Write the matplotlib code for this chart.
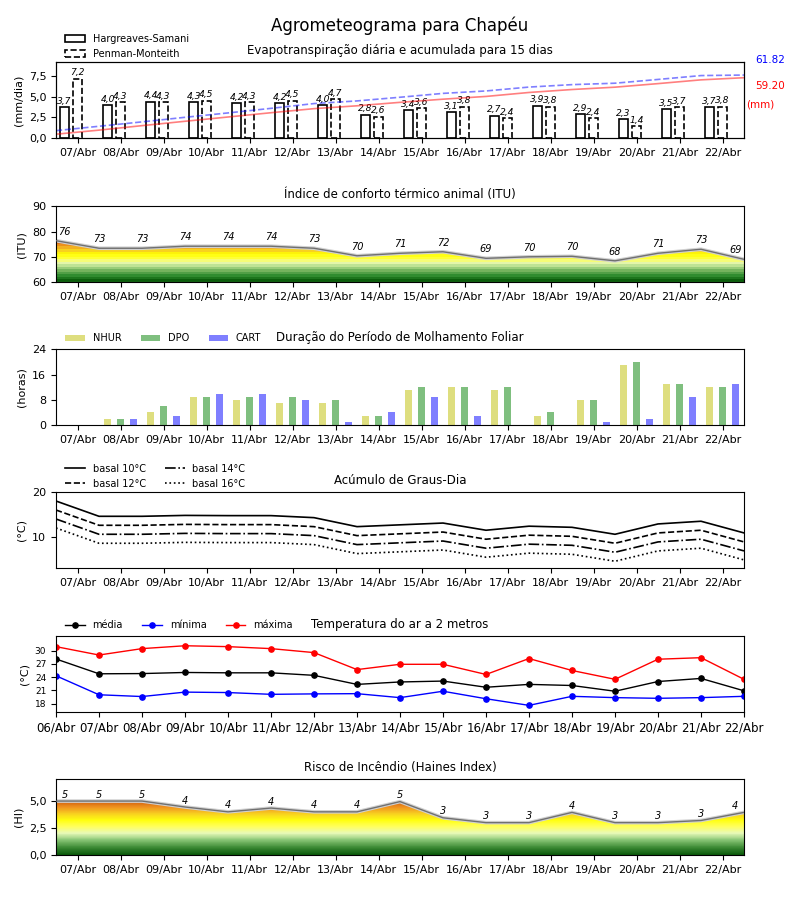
import numpy as np
import matplotlib
matplotlib.use('Agg')
import matplotlib.pyplot as plt
from matplotlib.colors import LinearSegmentedColormap
from matplotlib.patches import Patch

# datas (17 pontos, de 06/Abr a 22/Abr)
datas = ['06/Abr', '07/Abr', '08/Abr', '09/Abr', '10/Abr', '11/Abr', '12/Abr', '13/Abr', '14/Abr',
         '15/Abr', '16/Abr', '17/Abr', '18/Abr', '19/Abr', '20/Abr', '21/Abr', '22/Abr']
dias = datas[1:]  # rotulos no meio de cada dia

# evapotranspiracao diaria (mm/dia)
et_hs = [3.7, 4.0, 4.4, 4.3, 4.2, 4.2, 4.0, 2.8, 3.4, 3.1, 2.7, 3.9, 2.9, 2.3, 3.5, 3.7]
et_pm = [7.2, 4.3, 4.3, 4.5, 4.3, 4.5, 4.7, 2.6, 3.6, 3.8, 2.4, 3.8, 2.4, 1.4, 3.7, 3.8]
# acumulado (mm)
acum_hs = [3.7, 7.7, 12.1, 16.4, 20.6, 24.8, 28.8, 31.6, 35.0, 38.1, 40.8, 44.7, 47.6, 49.9, 53.4, 57.1, 59.20]
acum_pm = [7.2, 11.5, 15.8, 20.3, 24.6, 29.1, 33.8, 36.4, 40.0, 43.8, 46.2, 50.0, 52.4, 53.8, 57.5, 61.3, 61.82]

# indice de conforto termico (ITU)
itu = [76.4, 73.4, 73.4, 74.2, 74.2, 74.2, 73.4, 70.4, 71.4, 72.0, 69.4, 70.0, 70.2, 68.4, 71.4, 73.0, 69.0]

# molhamento foliar (horas)
nhur = [0, 2, 4, 9, 8, 7, 7, 3, 11, 12, 11, 3, 8, 19, 13, 12]
dpo = [0, 2, 6, 9, 9, 9, 8, 3, 12, 12, 12, 4, 8, 20, 13, 12]
cart = [0, 2, 3, 10, 10, 8, 1, 4, 9, 3, 0, 0, 1, 2, 9, 13]

# graus-dia
gd10 = [18.1, 14.7, 14.7, 14.9, 14.85, 14.85, 14.4, 12.4, 12.8, 13.2, 11.6, 12.5, 12.25, 10.7, 13.0, 13.6, 11.0]
gd12 = [16.1, 12.7, 12.7, 12.9, 12.85, 12.85, 12.4, 10.4, 10.8, 11.2, 9.6, 10.5, 10.25, 8.7, 11.0, 11.6, 9.0]
gd14 = [14.1, 10.7, 10.7, 10.9, 10.85, 10.85, 10.4, 8.4, 8.8, 9.2, 7.6, 8.5, 8.25, 6.7, 9.0, 9.6, 7.0]
gd16 = [12.1, 8.7, 8.7, 8.9, 8.85, 8.85, 8.4, 6.4, 6.8, 7.2, 5.6, 6.5, 6.25, 4.7, 7.0, 7.6, 5.0]

# temperatura do ar (C)
tmed = [28.1, 24.75, 24.8, 25.05, 24.97, 24.97, 24.4, 22.35, 22.9, 23.1, 21.7, 22.35, 22.1, 20.8, 23.0, 23.7, 20.9]
tmin = [24.3, 20.0, 19.6, 20.6, 20.5, 20.1, 20.2, 20.25, 19.35, 20.8, 19.1, 17.6, 19.65, 19.35, 19.2, 19.35, 19.65]
tmax = [30.9, 29.0, 30.45, 31.1, 30.9, 30.45, 29.55, 25.7, 26.9, 26.9, 24.6, 28.2, 25.5, 23.5, 28.05, 28.4, 23.5]

# haines index
haines = [5.0, 5.0, 5.0, 4.45, 4.0, 4.35, 4.0, 4.0, 4.95, 3.45, 3.0, 3.0, 3.95, 3.0, 3.0, 3.2, 3.95]

x_pts = np.arange(len(datas))          # bordas dos dias
x_dia = np.arange(len(dias)) + 0.5      # meio dos dias


def fmt(v):
    return f'{v:.1f}'.replace('.', ',')


def eixo_x_dias(ax):
    ax.set_xlim(0, 16)
    ax.set_xticks(x_dia)
    ax.set_xticklabels(dias, fontsize=8)


def preenche_gradiente(ax, x, y, y0, y1, cmap):
    # preenche abaixo da curva com um degrade vertical
    poly = ax.fill_between(x, y0, y, color='none', lw=0)
    grad = np.linspace(y0, y1, 400).reshape(-1, 1)
    img = ax.imshow(grad, extent=[x[0], x[-1], y0, y1], origin='lower', aspect='auto',
                    cmap=cmap, vmin=y0, vmax=y1, zorder=1, interpolation='nearest')
    img.set_clip_path(poly.get_paths()[0], transform=ax.transData)
    ax.plot(x, y, color='#d0d0d0', lw=2.6, zorder=2)
    ax.plot(x, y, color='#707070', lw=1.0, zorder=3)


def rotulos_curva(ax, y, dy):
    n = len(y)
    for i, v in enumerate(y):
        dx = 0.2 if i == 0 else (-0.2 if i == n - 1 else 0)
        ax.annotate(f'{v:.0f}', (i + dx, v), xytext=(0, dy), textcoords='offset points',
                    ha='center', va='bottom', fontsize=7, style='italic')


fig = plt.figure(figsize=(8, 9), dpi=100)
fig.suptitle('Agrometeograma para Chapéu', fontsize=12, y=0.982)

esq, larg, alt = 0.07, 0.86, 0.0839
bases = [0.8467, 0.6867, 0.5278, 0.3689, 0.2089, 0.05]
leg_x = 0.008

# ---- evapotranspiracao
ax1 = fig.add_axes([esq, bases[0], larg, alt])
ax1.bar(x_dia - 0.3, et_hs, width=0.21, facecolor='white', edgecolor='black', lw=1.2)
ax1.bar(x_dia, et_pm, width=0.21, facecolor='white', edgecolor='black', lw=1.2, linestyle='--')
for xi, v in zip(x_dia - 0.3, et_hs):
    ax1.annotate(fmt(v), (xi, v), xytext=(0, 1), textcoords='offset points', ha='center', va='bottom',
                 fontsize=6.6, style='italic')
for xi, v in zip(x_dia, et_pm):
    ax1.annotate(fmt(v), (xi, v), xytext=(0, 1), textcoords='offset points', ha='center', va='bottom',
                 fontsize=6.6, style='italic')
eixo_x_dias(ax1)
ax1.set_ylim(0, 9.15)
ax1.set_yticks([0, 2.5, 5, 7.5])
ax1.set_yticklabels(['0,0', '2,5', '5,0', '7,5'], fontsize=8)
ax1.set_ylabel('(mm/dia)', fontsize=8)
ax1.set_title('Evapotranspiração diária e acumulada para 15 dias', fontsize=8.5)
leg_hand = [Patch(facecolor='white', edgecolor='black', lw=1.2, label='Hargreaves-Samani'),
            Patch(facecolor='white', edgecolor='black', lw=1.2, linestyle='--', label='Penman-Monteith')]
ax1.legend(handles=leg_hand, loc='lower left', bbox_to_anchor=(leg_x, 1.0), borderaxespad=0,
           frameon=False, fontsize=7)
ax1b = ax1.twinx()
ax1b.plot(x_pts, acum_pm, color='blue', alpha=0.5, lw=1.2, ls='--')
ax1b.plot(x_pts, acum_hs, color='red', alpha=0.5, lw=1.2)
ax1b.set_ylim(0, 1.2 * acum_pm[-1])
ax1b.set_yticks([])
ax1b.set_xlim(0, 16)
ax1.text(1.016, 1.027, f'{acum_pm[-1]:.2f}', color='blue', fontsize=7.5, transform=ax1.transAxes, va='center')
ax1.text(1.016, 0.693, f'{acum_hs[-1]:.2f}', color='red', fontsize=7.5, transform=ax1.transAxes, va='center')
ax1.text(1.003, 0.44, '(mm)', color='red', fontsize=7.5, transform=ax1.transAxes, va='center')

# ---- ITU
cmap_itu = LinearSegmentedColormap.from_list('itu', [
    (0.0, '#0b5e0b'), (2 / 30, '#2e8b2e'), (4 / 30, '#6fb05a'), (6 / 30, '#b8e090'),
    (7.5 / 30, '#eefab0'), (9 / 30, '#ffff40'), (11 / 30, '#ffff00'), (12.5 / 30, '#f8d020'),
    (14 / 30, '#f0a020'), (16 / 30, '#dd6010'), (20 / 30, '#c03010'), (1.0, '#a00000')], N=30)
ax2 = fig.add_axes([esq, bases[1], larg, alt])
preenche_gradiente(ax2, x_pts, itu, 60, 90, cmap_itu)
rotulos_curva(ax2, itu, 3)
eixo_x_dias(ax2)
ax2.set_ylim(60, 90)
ax2.set_yticks([60, 70, 80, 90])
ax2.tick_params(axis='y', labelsize=8)
ax2.set_ylabel('(ITU)', fontsize=8)
ax2.set_title('Índice de conforto térmico animal (ITU)', fontsize=8.5)

# ---- molhamento foliar
ax3 = fig.add_axes([esq, bases[2], larg, alt])
ax3.bar(x_dia - 0.3, nhur, width=0.16, color='y', alpha=0.5, label='NHUR')
ax3.bar(x_dia, dpo, width=0.16, color='g', alpha=0.5, label='DPO')
ax3.bar(x_dia + 0.3, cart, width=0.16, color='b', alpha=0.5, label='CART')
eixo_x_dias(ax3)
ax3.set_ylim(0, 24)
ax3.set_yticks([0, 8, 16, 24])
ax3.tick_params(axis='y', labelsize=8)
ax3.set_ylabel('(horas)', fontsize=8)
ax3.set_title('Duração do Período de Molhamento Foliar', fontsize=8.5)
ax3.legend(loc='lower left', bbox_to_anchor=(leg_x, 1.03), borderaxespad=0, ncol=3,
           frameon=False, fontsize=7)

# ---- graus-dia
ax4 = fig.add_axes([esq, bases[3], larg, alt])
ax4.plot(x_pts, gd10, 'k-', lw=1.2, label='basal 10°C')
ax4.plot(x_pts, gd12, 'k--', lw=1.2, label='basal 12°C')
ax4.plot(x_pts, gd14, 'k-.', lw=1.2, label='basal 14°C')
ax4.plot(x_pts, gd16, 'k:', lw=1.2, label='basal 16°C')
eixo_x_dias(ax4)
ax4.set_ylim(3.2, 20)
ax4.set_yticks([10, 20])
ax4.tick_params(axis='y', labelsize=8)
ax4.set_ylabel('(°C)', fontsize=8)
ax4.set_title('Acúmulo de Graus-Dia', fontsize=8.5)
ax4.legend(loc='lower left', bbox_to_anchor=(leg_x, 1.0), borderaxespad=0, ncol=2,
           frameon=False, fontsize=7)

# ---- temperatura
ax5 = fig.add_axes([esq, bases[4], larg, alt])
ax5.plot(x_pts, tmed, 'k-', marker='o', ms=3.8, lw=1, label='média')
ax5.plot(x_pts, tmin, 'b-', marker='o', ms=3.8, lw=1, label='mínima')
ax5.plot(x_pts, tmax, 'r-', marker='o', ms=3.8, lw=1, label='máxima')
ax5.set_xlim(0, 16)
ax5.set_xticks(x_pts)
ax5.set_xticklabels(datas, fontsize=8.5)
ax5.set_ylim(16.1, 33.2)
ax5.set_yticks([18, 21, 24, 27, 30])
ax5.tick_params(axis='y', labelsize=6.5)
ax5.set_ylabel('(°C)', fontsize=8)
ax5.set_title('Temperatura do ar a 2 metros', fontsize=8.5)
ax5.legend(loc='lower left', bbox_to_anchor=(leg_x, 1.03), borderaxespad=0, ncol=3,
           frameon=False, fontsize=7)

# ---- haines
cmap_hi = LinearSegmentedColormap.from_list('hi', [
    (0.0, '#0b5a0b'), (0.7 / 7, '#3d8b35'), (1.4 / 7, '#8cc878'), (2.0 / 7, '#e8fab8'),
    (2.6 / 7, '#ffff60'), (3.2 / 7, '#ffff10'), (3.8 / 7, '#f8d020'), (4.4 / 7, '#f09520'),
    (5.0 / 7, '#d05a10'), (1.0, '#a03000')])
ax6 = fig.add_axes([esq, bases[5], larg, alt])
preenche_gradiente(ax6, x_pts, haines, 0, 7, cmap_hi)
rotulos_curva(ax6, haines, 1)
eixo_x_dias(ax6)
ax6.set_ylim(0, 7)
ax6.set_yticks([0, 2.5, 5])
ax6.set_yticklabels(['0,0', '2,5', '5,0'], fontsize=8)
ax6.set_ylabel('(HI)', fontsize=8)
ax6.set_title('Risco de Incêndio (Haines Index)', fontsize=8.5)

fig.savefig('out.png', dpi=100)
